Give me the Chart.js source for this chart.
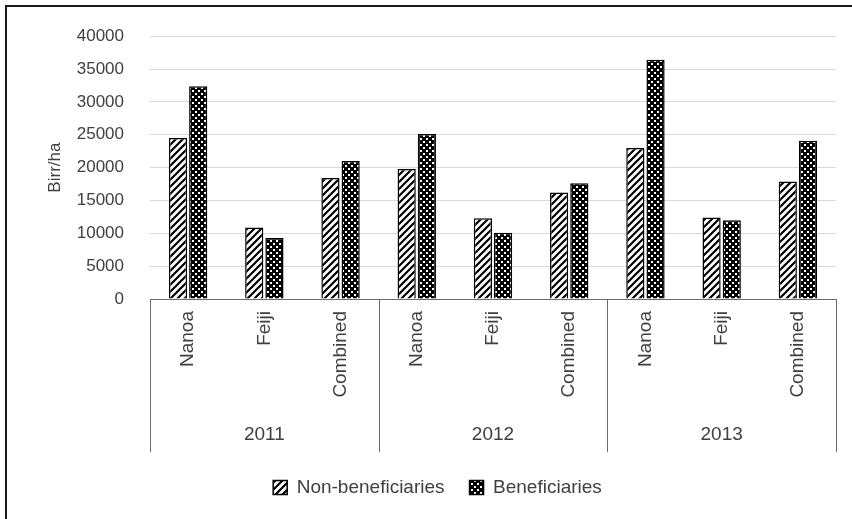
<!DOCTYPE html>
<html>
<head>
<meta charset="utf-8">
<script src="https://cdn.jsdelivr.net/npm/chart.js@4/dist/chart.umd.min.js"></script>
<style>
  html, body { margin: 0; padding: 0; background: #fff; }
  #wrap { width: 852px; height: 519px; }
</style>
</head>
<body>
<div id="wrap"><canvas id="chart" width="852" height="519"></canvas></div>
<script>
// Gross margin per hectare by site and year
const years = ['2011', '2012', '2013'];
const sites = ['Nanoa', 'Feiji', 'Combined'];
const nonBeneficiaries = [24500, 10900, 18400, 19800, 12300, 16200, 23000, 12400, 17900];
const beneficiaries    = [32400,  9300, 21000, 25100, 10100, 17600, 36400, 12000, 24100];
const yTickValues = [0, 5000, 10000, 15000, 20000, 25000, 30000, 35000, 40000];

const TEXT = '#404040';
const FONT = "'Liberation Sans', Arial, sans-serif";
const PAD = { left: 39, right: 16, top: 35, bottom: 12 };
const PLOT_BOTTOM = 299;

// one category per (year, site) pair
const categories = [];
years.forEach(() => sites.forEach(s => categories.push(s)));

// fill patterns
function hatchPattern() {
  const c = document.createElement('canvas');
  c.width = 7; c.height = 7;
  const p = c.getContext('2d');
  p.fillStyle = '#fff'; p.fillRect(0, 0, 7, 7);
  p.strokeStyle = '#000'; p.lineWidth = 2.2;
  p.beginPath();
  p.moveTo(-1, 8); p.lineTo(8, -1);
  p.moveTo(-1, 1); p.lineTo(1, -1);
  p.moveTo(6, 8); p.lineTo(8, 6);
  p.stroke();
  return p.createPattern(c, 'repeat');
}
function checkerPattern() {
  const c = document.createElement('canvas');
  c.width = 6; c.height = 6;
  const p = c.getContext('2d');
  p.fillStyle = '#000'; p.fillRect(0, 0, 6, 6);
  p.fillStyle = '#fff';
  p.fillRect(0, 0, 2, 2);
  p.fillRect(3, 3, 2, 2);
  return p.createPattern(c, 'repeat');
}

// outer frame of the figure
const framePlugin = {
  id: 'frame',
  beforeDraw(chart) {
    const ctx = chart.ctx;
    ctx.save();
    ctx.fillStyle = '#fff';
    ctx.fillRect(0, 0, chart.width, chart.height);
    ctx.strokeStyle = '#1a1a1a';
    ctx.lineWidth = 2;
    ctx.beginPath();
    ctx.moveTo(6, chart.height);
    ctx.lineTo(6, 6);
    ctx.lineTo(chart.width, 6);
    ctx.stroke();
    ctx.restore();
  }
};

// year row beneath the site labels, with separators between groups
const yearGroupPlugin = {
  id: 'yearGroups',
  afterDraw(chart) {
    const xs = chart.scales.x;
    const ctx = chart.ctx;
    const n = sites.length;
    const step = xs.getPixelForValue(1) - xs.getPixelForValue(0);
    const top = xs.top;
    const bottom = top + 153;
    ctx.save();
    ctx.strokeStyle = '#6b6b6b';
    ctx.lineWidth = 1;
    ctx.beginPath();
    for (let g = 0; g <= years.length; g++) {
      const x = Math.round(xs.getPixelForValue(g * n) - step / 2) + 0.5;
      ctx.moveTo(x, top);
      ctx.lineTo(x, bottom);
    }
    ctx.stroke();
    ctx.fillStyle = TEXT;
    ctx.font = "19px " + FONT;
    ctx.textAlign = 'center';
    ctx.textBaseline = 'middle';
    years.forEach((y, g) => {
      const cx = xs.getPixelForValue(g * n + (n - 1) / 2);
      ctx.fillText(y, cx, top + 136);
    });
    ctx.restore();
  }
};

new Chart(document.getElementById('chart'), {
  type: 'bar',
  data: {
    labels: categories,
    datasets: [
      {
        label: 'Non-beneficiaries',
        data: nonBeneficiaries,
        backgroundColor: hatchPattern(),
        borderColor: '#000',
        borderWidth: 1.5,
        categoryPercentage: 0.53,
        barPercentage: 0.9
      },
      {
        label: 'Beneficiaries',
        data: beneficiaries,
        backgroundColor: checkerPattern(),
        borderColor: '#000',
        borderWidth: 1.5,
        categoryPercentage: 0.53,
        barPercentage: 0.9
      }
    ]
  },
  options: {
    responsive: false,
    animation: false,
    devicePixelRatio: 1,
    layout: { padding: PAD },
    plugins: {
      tooltip: { enabled: false },
      legend: {
        position: 'bottom',
        labels: {
          color: TEXT,
          font: { family: FONT, size: 19 },
          boxWidth: 14,
          boxHeight: 14,
          padding: 25
        }
      }
    },
    scales: {
      x: {
        offset: true,
        grid: { display: false, drawTicks: false },
        border: { display: true, color: '#6b6b6b', width: 1 },
        ticks: {
          color: TEXT,
          font: { family: FONT, size: 19 },
          minRotation: 90,
          maxRotation: 90,
          autoSkip: false,
          padding: 12
        },
        afterFit(scale) {
          const ch = scale.chart;
          const legendH = ch.legend ? ch.legend.height : 0;
          scale.height = ch.height - PAD.bottom - legendH - PLOT_BOTTOM;
        }
      },
      y: {
        min: yTickValues[0],
        max: yTickValues[yTickValues.length - 1],
        afterBuildTicks(scale) {
          scale.ticks = yTickValues.map(v => ({ value: v }));
        },
        grid: { color: '#d9d9d9', lineWidth: 1, drawTicks: false },
        border: { display: false },
        ticks: {
          color: TEXT,
          font: { family: FONT, size: 17 },
          padding: 26,
          callback: v => String(v)
        },
        title: {
          display: true,
          text: 'Birr/ha',
          color: TEXT,
          font: { family: FONT, size: 17 },
          padding: { top: 6, bottom: 0 }
        },
        afterFit(scale) {
          scale.width = 150 - PAD.left;
        }
      }
    }
  },
  plugins: [framePlugin, yearGroupPlugin]
});
</script>
</body>
</html>
